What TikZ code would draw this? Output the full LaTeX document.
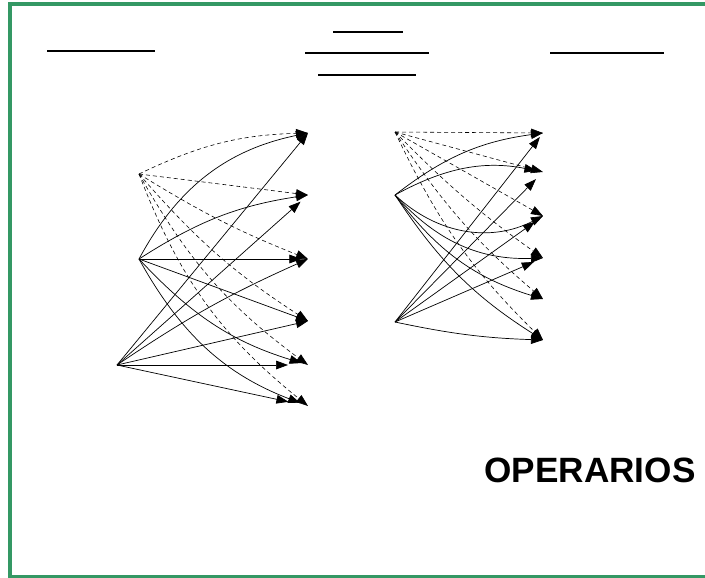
\documentclass[tikz,border=0pt]{standalone}
\usepackage{fontspec}
\setmainfont{Liberation Sans}
\usetikzlibrary{arrows.meta}
\definecolor{framegreen}{RGB}{52,152,100}

\begin{document}
\begin{tikzpicture}[x=0.03cm,y=0.03cm]
\useasboundingbox (0,0) rectangle (705,-577);

% 1. Nur die Koordinaten definieren
\coordinate (a1) at (139,-174);
\coordinate (a2) at (139,-259);
\coordinate (a3) at (117,-365);

\coordinate (t1) at (308,-133);
\coordinate (t2) at (308,-195);
\coordinate (t3) at (308,-259);
\coordinate (t4) at (308,-321);
\coordinate (t5) at (308,-365);
\coordinate (t6) at (308,-406);

\coordinate (b1) at (395,-132);
\coordinate (b2) at (395,-195);
\coordinate (b3) at (395,-322);

\coordinate (u1) at (543,-133);
\coordinate (u2) at (543,-172);
\coordinate (u3) at (543,-216);
\coordinate (u4) at (543,-258);
\coordinate (u5) at (543,-299);
\coordinate (u6) at (543,-340);

% 2. Stile definieren
\tikzset{
  arr/.style={
    color=black,
    line width=0.6pt,
    -{Triangle[length=3.6mm,width=2.6mm]}
  },
  darr/.style={
    arr,
    line width=0.5pt,
    dash pattern=on 1.2mm off 0.9mm
  },
  blank line/.style={
    color=black,
    line width=1.6pt
  }
}

% 3. Rahmen und Linien oben
\draw [framegreen, line width=0.12cm] (760,-4) -- (10,-4) -- (10,-577) -- (760,-577);

\draw [blank line] (47,-51) -- (155,-51);
\draw [blank line] (333,-32) -- (403,-32);
\draw [blank line] (305,-53) -- (429,-53);
\draw [blank line] (318,-75) -- (416,-75);
\draw [blank line] (550,-53) -- (664,-53);

% 4. Pfeile links
\draw [darr] (a1) to[bend left=12] (t1);
\draw [darr] (a1) -- (t2);
\draw [darr] (a1) to[bend right=5] (t3);
\draw [darr] (a1) to[bend right=8] (t4);
\draw [darr] (a1) to[bend right=12] (t5);
\draw [darr] (a1) to[bend right=15] (t6);

\draw [arr] (a2) to[bend left=25] (t1);
\draw [arr] (a2) to[bend left=12] (t2);
\draw [arr, shorten >=0.2cm] (a2) -- (t3);
\draw [arr] (a2) -- (t4);
\draw [arr, shorten >=0.2cm] (a2) to[bend right=15] (t5);
\draw [arr, shorten >=0.25cm] (a2) to[bend right=20] (t6);

\draw [arr] (a3) -- (t1);
\draw [arr, shorten >=0.3cm] (a3) -- (t2);
\draw [arr] (a3) to[bend left=5] (t3);
\draw [arr] (a3) -- (t4);
\draw [arr, shorten >=0.6cm] (a3) -- (t5);
\draw [arr, shorten >=0.6cm] (a3) -- (t6);

% 5. Pfeile rechts
\draw [darr] (b1) -- (u1);
\draw [darr] (b1) -- (u2);
\draw [darr] (b1) -- (u3);
\draw [darr] (b1) to[bend right=5] (u4);
\draw [darr] (b1) to[bend right=8] (u5);
\draw [darr] (b1) to[bend right=10] (u6);

\draw [arr] (b2) to[bend left=15] (u1);
\draw [arr, shorten >=0.2cm] (b2) to[bend left=20] (u2);
\draw [arr] (b2) to[bend right=35] (u3);
\draw [arr] (b2) to[bend right=25] (u4);
\draw [arr] (b2) to[bend right=18] (u5);
\draw [arr] (b2) to[bend right=12] (u6);

\draw [arr, shorten >=0.15cm] (b3) -- (u1);
\draw [arr, shorten >=0.3cm] (b3) -- (u2);
\draw [arr, shorten >=0.3cm] (b3) -- (u3);
\draw [arr, shorten >=0.3cm] (b3) -- (u4);
\draw [arr] (b3) to[bend right=5] (u6);

% 6. Text
\node [font=\bfseries\fontsize{30}{36}\selectfont, inner sep=0pt] (operarios) at (590,-470) {OPERARIOS};

\end{tikzpicture}
\end{document}
